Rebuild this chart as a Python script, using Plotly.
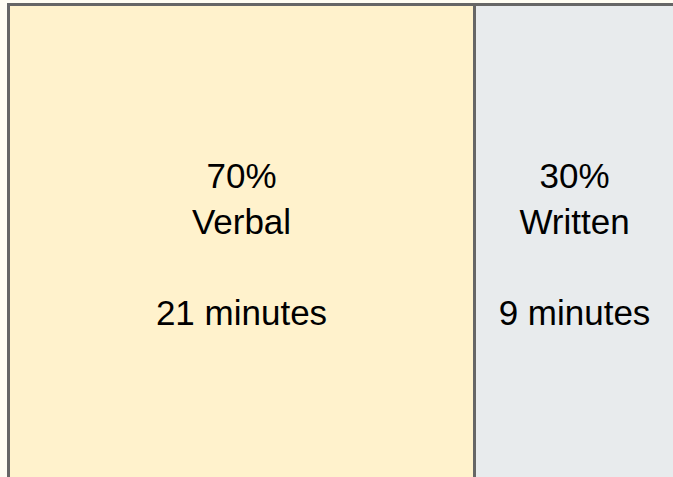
import plotly.graph_objects as go

categories = ["Verbal", "Written"]
minutes = [21, 9]
percents = [70, 30]
colors = ["#FFF2CC", "#E8EBED"]

fig = go.Figure()
for cat, m, p, c in zip(categories, minutes, percents, colors):
    fig.add_trace(go.Bar(
        x=[m], y=[0], orientation="h", width=1,
        name=cat,
        marker=dict(color=c, line=dict(color="#666666", width=3)),
        text=[f"{p}%<br>{cat}<br><br>{m} minutes"],
        textposition="inside", insidetextanchor="middle", textangle=0,
        insidetextfont=dict(color="#000000", size=35, family="Arial, Liberation Sans, sans-serif"),
        hoverinfo="skip",
    ))

W, H = 673, 477
s = 22.2          # px per minute
x0px = 9
top_px, bot_px = 4.5, 484
ppu = bot_px - top_px
fig.update_layout(
    width=W, height=H, barmode="stack", bargap=0,
    margin=dict(l=0, r=0, t=0, b=0),
    paper_bgcolor="#FFFDF3", plot_bgcolor="#FFFDF3",
    showlegend=False, uniformtext=dict(mode=False),
    xaxis=dict(visible=False, range=[-x0px / s, (W - x0px) / s], fixedrange=True),
    yaxis=dict(visible=False, range=[0.5 - (H - top_px) / ppu, 0.5 + top_px / ppu], fixedrange=True),
)
fig.write_html(
    "out.html",
    config=dict(displayModeBar=False),
    post_script="document.body.style.margin='0';document.body.style.overflow='hidden';document.body.style.background='#FFFDF3';",
)
